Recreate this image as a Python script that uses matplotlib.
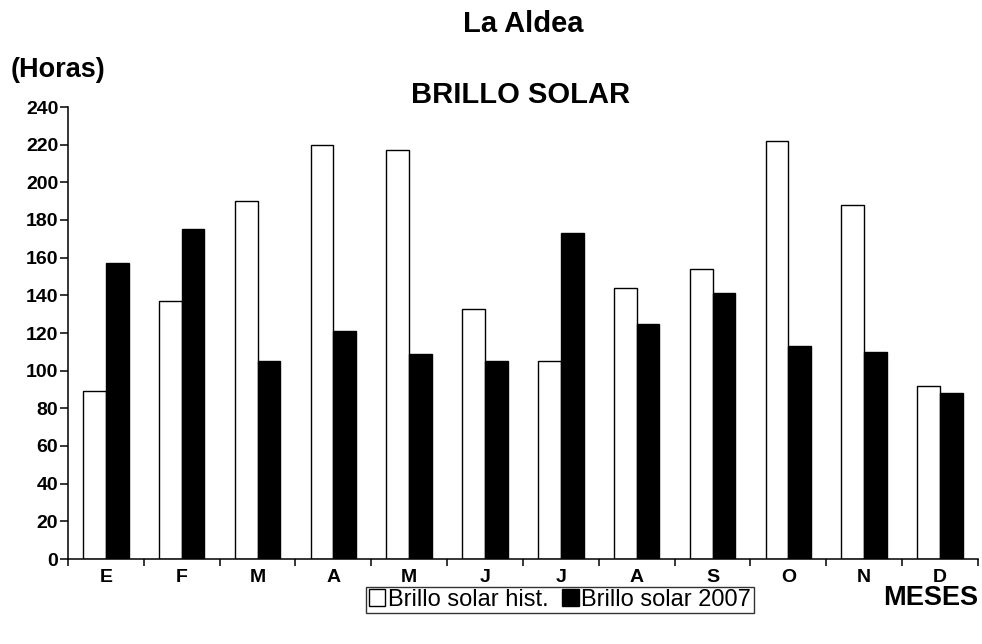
import matplotlib
matplotlib.use("Agg")
from matplotlib import pyplot as plt
import numpy as np

plt.rcParams['font.family'] = ['Liberation Sans', 'DejaVu Sans']

meses = ["E", "F", "M", "A", "M", "J", "J", "A", "S", "O", "N", "D"]
brillo_hist = [89, 137, 190, 220, 217, 133, 105, 144, 154, 222, 188, 92]
brillo_2007 = [157, 175, 105, 121, 109, 105, 173, 125, 141, 113, 110, 88]
yticks = list(range(0, 241, 20))

fig = plt.figure(figsize=(9.82, 6.44), dpi=100)
ax = fig.add_axes([68/982, 1-559/644, 910/982, 452/644])

x = np.arange(len(meses))
w = 0.3
ax.bar(x - w/2, brillo_hist, w, color="white", edgecolor="black", linewidth=1.0, label="Brillo solar hist.")
ax.bar(x + w/2, brillo_2007, w, color="black", edgecolor="black", linewidth=1.0, label="Brillo solar 2007")

ax.set_xlim(-0.5, len(meses) - 0.5)
ax.set_ylim(0, 240)
ax.set_yticks(yticks)
ax.set_xticks(x)
ax.set_xticklabels(meses, fontweight="bold", fontsize=14)
ax.set_xticks(np.arange(-0.5, len(meses), 1), minor=True)
ax.tick_params(axis="x", which="major", length=0, pad=7)
ax.tick_params(axis="x", which="minor", length=5, width=1.1, direction="out")
ax.tick_params(axis="y", length=6, width=1.1, pad=1, labelsize=14)
for lab in ax.get_yticklabels():
    lab.set_fontweight("bold")

for s in ["top", "right"]:
    ax.spines[s].set_visible(False)
for s in ["left", "bottom"]:
    ax.spines[s].set_linewidth(1.1)

fig.text(523/982, 1-32/644, "La Aldea", ha="center", va="baseline", fontsize=21, fontweight="bold")
fig.text(521/982, 1-103/644, "BRILLO SOLAR", ha="center", va="baseline", fontsize=21, fontweight="bold")
fig.text(11/982, 1-77/644, "(Horas)", ha="left", va="baseline", fontsize=19.5, fontweight="bold")
fig.text(978/982, 1-605/644, "MESES", ha="right", va="baseline", fontsize=19.5, fontweight="bold")

leg = fig.legend(loc="center", bbox_to_anchor=(560/982, 1-600/644), ncol=2, fontsize=17,
                 frameon=True, fancybox=False, edgecolor="black", handlelength=0.7, handleheight=0.7,
                 handletextpad=0.1, columnspacing=0.6, borderpad=0.1, borderaxespad=0)
leg.get_frame().set_linewidth(1.0)

plt.savefig("out.png", dpi=100)
